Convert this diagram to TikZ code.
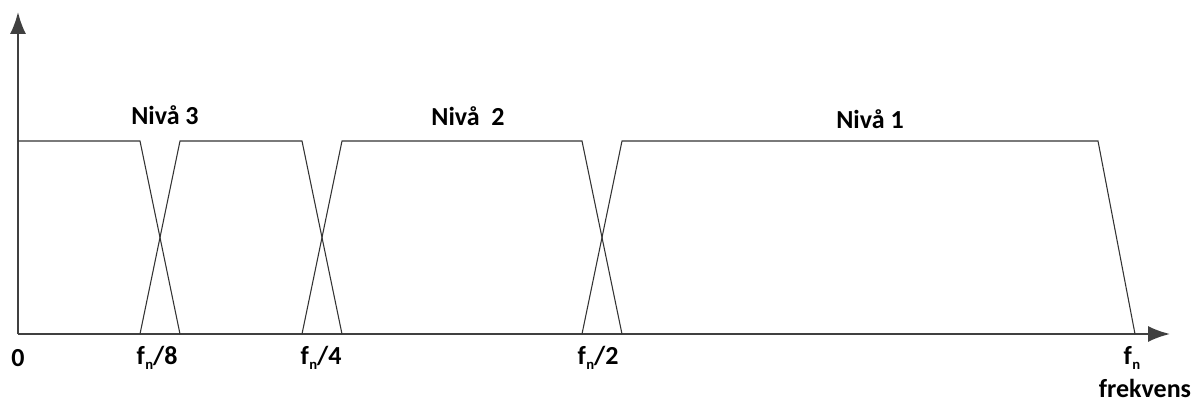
\documentclass[tikz,border=0pt]{standalone}
\usepackage{fontspec}
\setmainfont{Carlito}
\usetikzlibrary{arrows.meta}
\newcommand{\fn}{f\kern0.02em\raisebox{-0.45ex}{\fontsize{11}{11}\selectfont n}}
\begin{document}
\begin{tikzpicture}[x=0.75pt,y=-0.75pt,
  axis/.style={draw=black!75,line width=1.5pt,-{Latex[length=16.5pt,width=12pt]}},
  band/.style={draw=black!80,line width=0.8pt,line join=miter},
  lbl/.style={font=\fontsize{19.5}{22}\selectfont\bfseries,inner sep=0pt}]
\useasboundingbox (0,0) rectangle (1199,403);
% axes
\coordinate (o) at (18,334);
\coordinate (ytop) at (18,12);
\coordinate (xend) at (1170,334);
\draw[axis] (o) -- (ytop);
\draw[axis] (o) -- (xend);
% filter bands
\draw[band] (18,141) -- (140,141) -- (180,334);
\draw[band] (140,334) -- (180,141) -- (302,141) -- (342,334);
\draw[band] (302,334) -- (342,141) -- (582,141) -- (622,334);
\draw[band] (582,334) -- (622,141) -- (1098,141) -- (1135,334);
% levels
\node[lbl] (n3) at (165,115) {Nivå 3};
\node[lbl] (n2) at (468,116) {Nivå\ \ 2};
\node[lbl] (n1) at (870,119) {Nivå 1};
% ticks
\node[lbl] (t0) at (18,358) {0};
\node[lbl] (t8) at (157,358) {\fn/8};
\node[lbl] (t4) at (321,358) {\fn/4};
\node[lbl] (t2) at (598,358) {\fn/2};
\node[lbl] (t1) at (1132,358) {\fn};
\node[lbl] (fr) at (1145,388) {frekvens};
\end{tikzpicture}
\end{document}
